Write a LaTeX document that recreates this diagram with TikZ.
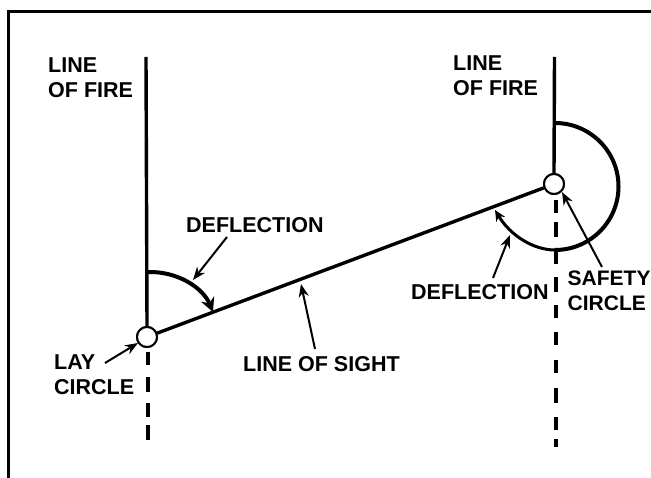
\documentclass[tikz,border=0pt]{standalone}
\usepackage{fontspec}
\setmainfont{Liberation Sans}
\usetikzlibrary{arrows.meta}
\tikzset{
  x=1pt,y=-1pt,
  mainline/.style={line width=3.4pt,black},
  arcline/.style={line width=4pt,black},
  pointer/.style={line width=2pt,black,-{Stealth[length=13pt,width=10pt]}},
  dashline/.style={line width=4pt,black},
  lbl/.style={font=\bfseries\fontsize{21.5pt}{25pt}\selectfont,align=left,anchor=west,inner sep=0pt,text=black},
  ring/.style={circle,draw=black,fill=white,line width=2pt,minimum size=20pt,inner sep=0pt}
}
\begin{document}
\begin{tikzpicture}
\useasboundingbox (0,0) rectangle (651,478);
\coordinate (fl) at (8.5,478);
\coordinate (tl) at (8.5,11.5);
\coordinate (tr) at (651,11.5);
\draw[line width=2.2pt] (fl) -- (tl) -- (tr);
\coordinate (lt) at (146,57);
\coordinate (rt) at (554.5,57);
\node[ring] (lay) at (147,337) {};
\node[ring] (safe) at (554,184) {};
\draw[mainline] (lt) -- (lay.north);
\draw[mainline] (rt) -- (safe.north);
\draw[mainline] (lay) -- (safe);
\node[ring] at (lay) {};
\node[ring] at (safe) {};
% dashes
\foreach \a/\b in {352/365,377/392,403/417,425/440}
  \draw[dashline] (148,\a) -- (148,\b);
\foreach \a/\b in {200/213,222/237,250/264,277/292,305/318,332/345,360/373,388/403,417/430,439/447}
  \draw[dashline] (555.8,\a) -- (555.8,\b);
% arcs
\coordinate (a1s) at (147,272);
\coordinate (a1e) at (213,312);
\draw[arcline,-{Stealth[length=14pt,width=14pt]}] (a1s) .. controls (178,271) and (203,288) .. (a1e);
\coordinate (a2s) at (555,123);
\draw[arcline] (a2s) arc[start angle=-90,end angle=90,radius=63.5] coordinate (a2m);
\coordinate (a3e) at (495,210);
\draw[line width=3pt,-{Stealth[length=11pt,width=10pt]}] (a2m) .. controls (533,250) and (510,235) .. (a3e);
% labels
\node[lbl] (t1) at (48,78) {LINE\\OF FIRE};
\node[lbl] (t2) at (453,76) {LINE\\OF FIRE};
\node[lbl] (t3) at (186,225) {DEFLECTION};
\node[lbl] (t4) at (411,292) {DEFLECTION};
\node[lbl] (t5) at (54,375) {LAY\\CIRCLE};
\node[lbl] (t6) at (243,364) {LINE OF SIGHT};
\node[lbl,font=\bfseries\fontsize{21pt}{25pt}\selectfont] (t7) at (567.5,291) {SAFETY\\CIRCLE};
% pointers
\coordinate (p1) at (193,280);
\coordinate (p2) at (510,235);
\coordinate (p3) at (301,284);
\coordinate (p4) at (138,343);
\coordinate (p5) at (562,192);
\draw[pointer] (227,237) -- (p1);
\draw[pointer] (493,278) -- (p2);
\draw[pointer] (315,349) -- (p3);
\draw[pointer] (105,363) -- (p4);
\draw[pointer] (602,267) -- (p5);
\end{tikzpicture}
\end{document}
